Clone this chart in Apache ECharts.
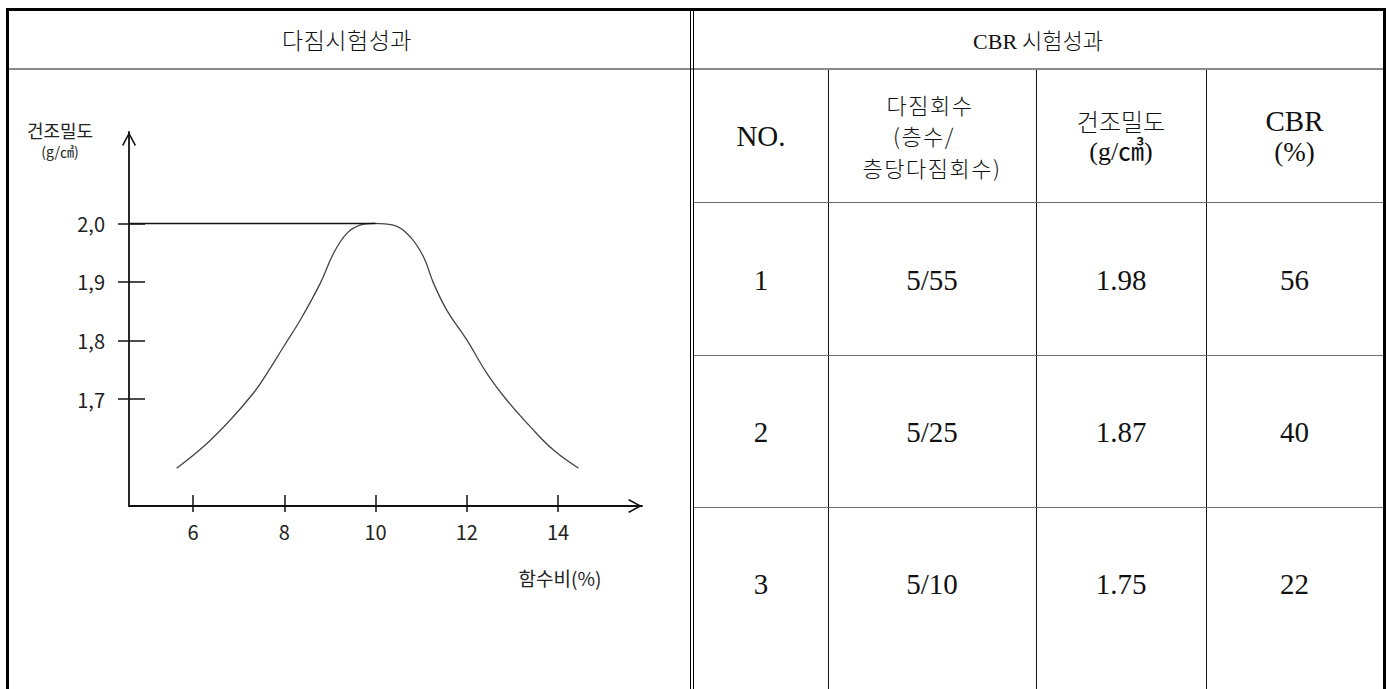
<!DOCTYPE html>
<html>
<head>
<meta charset="utf-8">
<script src="https://cdn.jsdelivr.net/npm/echarts@6.0.0/dist/echarts.min.js"></script>
<style>
html,body{margin:0;padding:0;background:#fff;width:1390px;height:689px;overflow:hidden;}
#page{position:relative;width:1390px;height:689px;background:#fff;}
.ln{position:absolute;}
.tx{position:absolute;text-align:center;white-space:nowrap;color:#111;font-family:"Liberation Serif","Noto Sans CJK KR",serif;}
.ko{font-family:"Noto Sans CJK KR","Liberation Serif",sans-serif;font-weight:300;}
#chart{position:absolute;left:0;top:0;width:1390px;height:689px;z-index:2;}
</style>
</head>
<body>
<div id="page"><div id="chart"></div></div>
<script>
// ---------- data ----------
const moisture = [5.64, 6.23, 6.81, 7.32, 7.62, 7.98, 8.35, 8.79, 9.08, 9.37, 9.66, 9.95, 10.39, 10.76, 11.05, 11.27, 11.56, 12.00, 12.44, 12.88, 13.39, 13.90, 14.45];
const density  = [1.582, 1.619, 1.664, 1.710, 1.744, 1.789, 1.835, 1.898, 1.949, 1.983, 1.997, 2.000, 1.997, 1.977, 1.943, 1.898, 1.852, 1.801, 1.744, 1.698, 1.653, 1.613, 1.582];
const xTicks = [6, 8, 10, 12, 14];
const yTicks = [1.7, 1.8, 1.9, 2.0];
const maxDryDensity = 2.0;
const optimumMoisture = 10;
const yAxisName = '건조밀도';
const yAxisUnit = '(g/㎤)';
const xAxisName = '함수비(%)';
const leftTitle = '다짐시험성과';
const rightTitle = 'CBR 시험성과';
const blowsHeader = ['다짐회수', '(층수/', '층당다짐회수)'];
const densityHeader = ['건조밀도', '(g/㎤)'];
const cbrHeader = ['CBR', '(%)'];
const testNo = ['1', '2', '3'];
const compaction = ['5/55', '5/25', '5/10'];
const dryDensity = ['1.98', '1.87', '1.75'];
const cbrValue = ['56', '40', '22'];

// ---------- table frame (HTML) ----------
const page = document.getElementById('page');
function line(x, y, w, h, c) {
  const d = document.createElement('div');
  d.className = 'ln';
  d.style.cssText = `left:${x}px;top:${y}px;width:${w}px;height:${h}px;background:${c};`;
  page.appendChild(d);
}
function text(cx, cy, html, size, lh, cls, extra) {
  const d = document.createElement('div');
  d.className = 'tx' + (cls ? ' ' + cls : '');
  d.style.cssText = `left:${cx - 200}px;width:400px;top:${cy - lh / 2}px;height:${lh}px;line-height:${lh}px;font-size:${size}px;` + (extra || '');
  d.innerHTML = html;
  page.appendChild(d);
}
// outer border
line(6, 8, 1380, 3, '#000');
line(6, 8, 3, 681, '#000');
line(1383, 8, 3, 681, '#000');
// header separator
line(9, 68, 1374, 2, '#8a8a8a');
// double divider
line(690, 11, 1, 678, '#000');
line(693, 11, 1, 678, '#000');
// right table grid
const colLines = [828, 1036, 1206];
colLines.forEach(x => line(x, 70, 1, 619, '#111'));
const rowLines = [202, 355, 507];
rowLines.forEach(y => line(694, y, 689, 1, '#6e6e6e'));
const colEdges = [694, 828, 1036, 1206, 1383];
const colC = colEdges.slice(0, 4).map((e, i) => (e + colEdges[i + 1]) / 2);

// titles
text(347, 39, leftTitle, 23, 30, 'ko', 'letter-spacing:0.5px;');
text(1038, 39, rightTitle.replace('CBR', '<span style="font-family:Liberation Serif">CBR</span>'), 22, 30, 'ko');
// column headers
text(colC[0], 136, 'NO.', 29, 30);
const ls = 'letter-spacing:1.5px;';
text(colC[1] - 2, 103.5, blowsHeader[0], 22, 28, 'ko', ls);
text(colC[1] - 8, 135, blowsHeader[1], 22, 28, 'ko', ls);
text(colC[1], 166.5, blowsHeader[2], 22, 28, 'ko', ls);
text(colC[2], 121, densityHeader[0], 24, 28, 'ko');
text(colC[2], 152, densityHeader[1], 26, 28);
text(colC[3], 121, cbrHeader[0], 29, 28);
text(colC[3], 152, cbrHeader[1], 27, 28);
// data rows
const rowC = [280, 432, 584];
rowC.forEach((cy, i) => {
  text(colC[0], cy, testNo[i], 29, 34);
  text(colC[1], cy, compaction[i], 29, 34);
  text(colC[2], cy, dryDensity[i], 29, 34);
  text(colC[3], cy, cbrValue[i], 29, 34);
});

// ---------- chart (ECharts) ----------
const X_MIN = 4.596, X_MAX = 15.84, Y_MIN = 1.5175, Y_MAX = 2.156;
const arrowPath = 'path://M5,0 L10,9.2 L9.1,10 L5,2.4 L0.9,10 L0,9.2 Z';
const axisColor = '#111';
const lblFont = '"Noto Sans CJK KR", "DejaVu Sans", sans-serif';

const chart = echarts.init(document.getElementById('chart'), null, { renderer: 'svg' });
chart.setOption({
  animation: false,
  backgroundColor: 'transparent',
  grid: { left: 129, top: 132, width: 513, height: 374, containLabel: false, outerBoundsMode: 'none' },
  xAxis: [
    {
      type: 'value', min: X_MIN, max: X_MAX, position: 'bottom',
      axisLine: { show: true, onZero: false, symbol: ['none', arrowPath], symbolSize: [14, 14], symbolOffset: [0, -7],
        lineStyle: { color: axisColor, width: 1.8 } },
      axisTick: { show: true, inside: false, length: 6, customValues: xTicks, lineStyle: { color: axisColor, width: 1.5 } },
      axisLabel: { show: true, customValues: xTicks, margin: 15, color: '#222', fontSize: 20, fontFamily: lblFont },
      splitLine: { show: false }
    },
    {
      type: 'value', min: X_MIN, max: X_MAX, position: 'bottom',
      axisLine: { show: false, onZero: false },
      axisTick: { show: true, inside: true, length: 11, customValues: xTicks, lineStyle: { color: axisColor, width: 1.5 } },
      axisLabel: { show: false },
      splitLine: { show: false }
    }
  ],
  yAxis: [
    {
      type: 'value', min: Y_MIN, max: Y_MAX, position: 'left',
      axisLine: { show: true, onZero: false, symbol: ['none', arrowPath], symbolSize: [14, 14], symbolOffset: [0, -7],
        lineStyle: { color: axisColor, width: 1.8 } },
      axisTick: { show: true, inside: false, length: 11, customValues: yTicks, lineStyle: { color: axisColor, width: 1.5 } },
      axisLabel: { show: true, customValues: yTicks, margin: 24, color: '#222', fontSize: 20, fontFamily: lblFont,
        formatter: v => v.toFixed(1).replace('.', ',') },
      splitLine: { show: false }
    },
    {
      type: 'value', min: Y_MIN, max: Y_MAX, position: 'left',
      axisLine: { show: false, onZero: false },
      axisTick: { show: true, inside: true, length: 16, customValues: yTicks, lineStyle: { color: axisColor, width: 1.5 } },
      axisLabel: { show: false },
      splitLine: { show: false }
    }
  ],
  graphic: [
    { type: 'text', x: 60, y: 130, style: { text: yAxisName, fontSize: 18, fontFamily: lblFont, fill: '#222',
      align: 'center', verticalAlign: 'middle', textAlign: 'center', textVerticalAlign: 'middle' } },
    { type: 'text', x: 60, y: 151, style: { text: yAxisUnit, fontSize: 14, fontFamily: lblFont, fill: '#222',
      align: 'center', verticalAlign: 'middle', textAlign: 'center', textVerticalAlign: 'middle' } },
    { type: 'text', x: 560, y: 577, style: { text: xAxisName, fontSize: 19, fontFamily: lblFont, fill: '#222',
      align: 'center', verticalAlign: 'middle', textAlign: 'center', textVerticalAlign: 'middle' } }
  ],
  series: [
    {
      type: 'line', xAxisIndex: 0, yAxisIndex: 0,
      data: moisture.map((m, i) => [m, density[i]]),
      smooth: 0.4, showSymbol: false, silent: true,
      lineStyle: { color: '#444', width: 1.3 }
    },
    {
      type: 'line', xAxisIndex: 0, yAxisIndex: 0,
      data: [[X_MIN, maxDryDensity], [optimumMoisture, maxDryDensity]],
      showSymbol: false, silent: true,
      lineStyle: { color: axisColor, width: 1.5 }
    }
  ]
});
</script>
</body>
</html>
